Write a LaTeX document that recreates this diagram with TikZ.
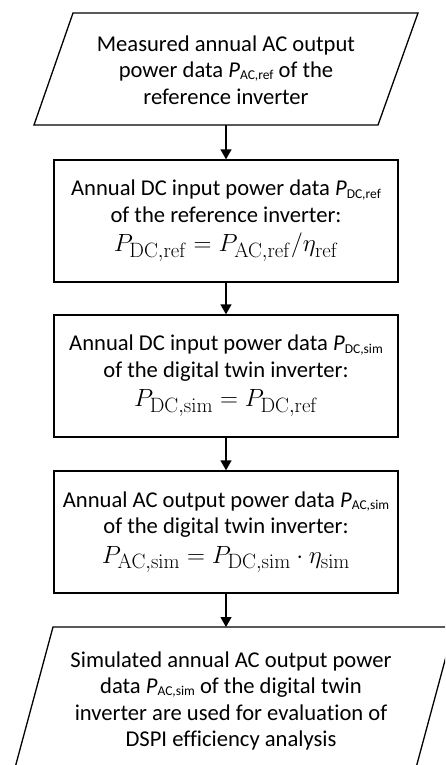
\documentclass[tikz,border=0pt]{standalone}
\usepackage[no-math]{fontspec}
\setmainfont[Ligatures=NoCommon]{Carlito}
\usetikzlibrary{arrows.meta}
\newcommand\mysub[1]{\raisebox{-0.2ex}{\fontsize{13.5}{13.5}\selectfont #1}}
\begin{document}
\begin{tikzpicture}[x=1pt,y=-1pt,
  box/.style={draw, line width=1.3pt, minimum width=344pt, minimum height=122pt, align=center, inner sep=0pt, font=\fontsize{22.6}{26.5}\selectfont},
  pgram/.style={align=center, inner sep=0pt, font=\fontsize{22.6}{26.5}\selectfont},
  edge/.style={line width=1.3pt},
  arr/.style={-{Triangle[length=10pt,width=11pt]}, line width=1.3pt}]
\clip (0,0) rectangle (445,765);
% top parallelogram
\node[pgram, minimum height=112pt] (in) at (226,70)
  {Measured annual AC output\\ power data \textit{P}\mysub{AC,ref} of the\\ reference inverter};
\coordinate (inTL) at (73,13);
\coordinate (inTR) at (418,13);
\coordinate (inBR) at (378,125);
\coordinate (inBL) at (34,125);
\draw[edge, line join=miter] (inTL) -- (inTR) -- (inBR) -- (inBL) -- cycle;
\coordinate (inS) at (226,125);
% boxes
\node[box] (b1) at (226,221)
  {Annual DC input power data \textit{P}\mysub{DC,ref}\\ of the reference inverter:\\[3pt]
   {\fontsize{27.5}{30}\selectfont $P_{\mathrm{DC,ref}} = P_{\mathrm{AC,ref}}/\eta_{\mathrm{ref}}$}};
\node[box] (b2) at (226,376)
  {Annual DC input power data \textit{P}\mysub{DC,sim}\\ of the digital twin inverter:\\[3pt]
   {\fontsize{27.5}{30}\selectfont $P_{\mathrm{DC,sim}} = P_{\mathrm{DC,ref}}$}};
\node[box] (b3) at (226,532)
  {Annual AC output power data \textit{P}\mysub{AC,sim}\\ of the digital twin inverter:\\[3pt]
   {\fontsize{27.5}{30}\selectfont $P_{\mathrm{AC,sim}} = P_{\mathrm{DC,sim}}\cdot\eta_{\mathrm{sim}}$}};
% bottom parallelogram
\node[pgram, minimum height=146pt] (out) at (231,701)
  {Simulated annual AC output power\\ data \textit{P}\mysub{AC,sim} of the digital twin\\ inverter are used for evaluation of\\ DSPI efficiency analysis};
\coordinate (outTL) at (53,627);
\coordinate (outTR) at (454,627);
\coordinate (outBR) at (414.6,773);
\coordinate (outBL) at (13.6,773);
\draw[edge, line join=miter] (outTL) -- (outTR) -- (outBR) -- (outBL) -- cycle;
\coordinate (outN) at (226,627);
% arrows
\draw[arr] (inS) -- (b1.north);
\draw[arr] (b1.south) -- (b2.north);
\draw[arr] (b2.south) -- (b3.north);
\draw[arr] (b3.south) -- (outN);
\end{tikzpicture}
\end{document}
